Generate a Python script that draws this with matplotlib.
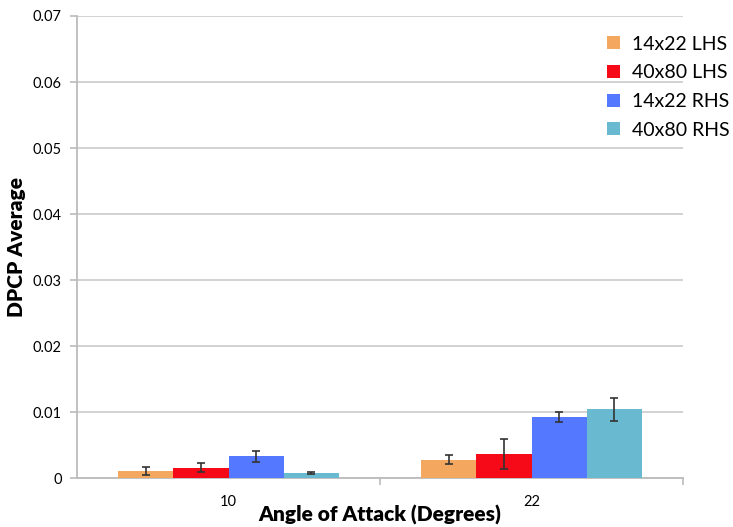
import matplotlib
matplotlib.use("Agg")
import matplotlib.pyplot as plt
import numpy as np

plt.rcParams["font.family"] = ["Lato", "DejaVu Sans"]

# angle-of-attack groups and the four tunnel/side series
angles = ["10", "22"]
series = ["14x22 LHS", "40x80 LHS", "14x22 RHS", "40x80 RHS"]
colors = ["#F4A75E", "#F70A18", "#5478FF", "#69BAD0"]

means = [
    [0.00106, 0.00279],  # 14x22 LHS
    [0.00156, 0.00370],  # 40x80 LHS
    [0.00330, 0.00924],  # 14x22 RHS
    [0.00076, 0.01045],  # 40x80 RHS
]
errs = [
    [0.00068, 0.00063],
    [0.00072, 0.00228],
    [0.00080, 0.00076],
    [0.00012, 0.00174],
]

fig = plt.figure(figsize=(7.33, 5.27), dpi=100)
ax = fig.add_axes([77 / 733, 1 - 478 / 527, (683 - 77) / 733, (478 - 16) / 527])

x = np.arange(len(angles))
w = 0.1825
for i, name in enumerate(series):
    ax.bar(x + (i - 1.5) * w, means[i], w, color=colors[i], label=name,
           yerr=errs[i], capsize=3,
           error_kw=dict(ecolor="#333333", elinewidth=1.2, capthick=1.2),
           zorder=3)

ax.set_xlim(-0.5, 1.5)
ax.set_ylim(0, 0.07)
ax.set_yticks(np.arange(0, 0.071, 0.01))
ax.set_yticklabels(["0"] + ["%.2f" % v for v in np.arange(0.01, 0.071, 0.01)])
ax.yaxis.grid(True, color="#cfcfcf", linewidth=1.3, zorder=0)
ax.set_axisbelow(True)

ax.set_xticks(x)
ax.set_xticklabels(angles)
ax.set_xticks([0.5, 1.5], minor=True)
ax.tick_params(axis="x", which="major", length=0, labelsize=10.5, pad=12)
ax.tick_params(axis="x", which="minor", length=5, color="#bbbbbb", width=1.2)
ax.tick_params(axis="y", length=5, color="#bbbbbb", width=1.2, labelsize=10.5, pad=6)

for s in ["top", "right"]:
    ax.spines[s].set_visible(False)
for s in ["left", "bottom"]:
    ax.spines[s].set_color("#bbbbbb")
    ax.spines[s].set_linewidth(1.3)

ax.set_xlabel("Angle of Attack (Degrees)", fontsize=15, fontweight="heavy", labelpad=-3)
ax.set_ylabel("DPCP Average", fontsize=15, fontweight="heavy", labelpad=5)

ax.legend(loc="upper right", bbox_to_anchor=(1.105, 0.995), frameon=False,
          fontsize=14, handlelength=0.65, handleheight=0.65, handletextpad=0.6,
          labelspacing=0.6)

fig.savefig("out.png", dpi=100)
